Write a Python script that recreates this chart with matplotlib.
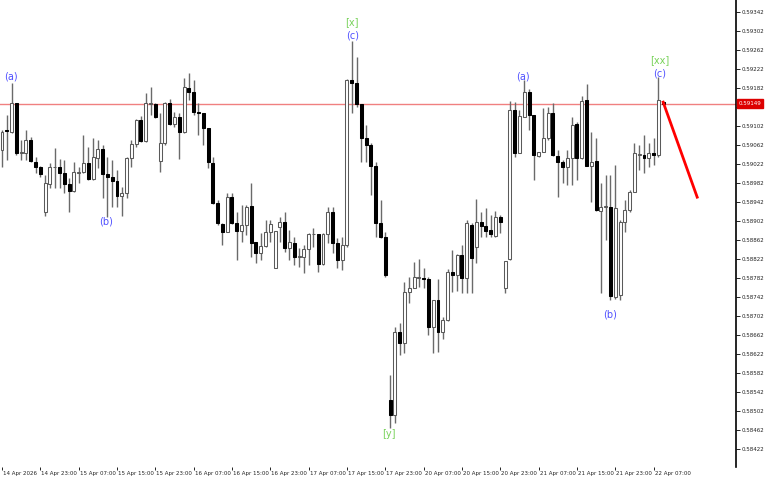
import matplotlib
matplotlib.use("Agg")
import matplotlib.pyplot as plt
import matplotlib.transforms as mtransforms
import numpy as np

# hourly bars, 14 Apr 15:00 .. 22 Apr 09:00
opens = [
    0.59051, 0.59093, 0.59089, 0.59150, 0.59045, 0.59045, 0.59072, 0.59026, 0.59015, 0.58921,
    0.58980, 0.59015, 0.59015, 0.59003, 0.58980, 0.58965, 0.59003, 0.59005, 0.59024, 0.58990,
    0.59034, 0.59053, 0.59001, 0.58994, 0.58986, 0.58954, 0.58961, 0.59034, 0.59064, 0.59114,
    0.59070, 0.59148, 0.59148, 0.59028, 0.59066, 0.59150, 0.59106, 0.59121, 0.59089, 0.59182,
    0.59173, 0.59131, 0.59129, 0.59098, 0.59024, 0.58940, 0.58896, 0.58879, 0.58952, 0.58898,
    0.58881, 0.58893, 0.58933, 0.58858, 0.58834, 0.58849, 0.58879, 0.58803, 0.58889, 0.58900,
    0.58845, 0.58856, 0.58826, 0.58826, 0.58843, 0.58874, 0.58874, 0.58811, 0.58874, 0.58921,
    0.58856, 0.58820, 0.58851, 0.59199, 0.59192, 0.59148, 0.59077, 0.59062, 0.59018, 0.58898,
    0.58868, 0.58525, 0.58493, 0.58668, 0.58645, 0.58752, 0.58761, 0.58782, 0.58782, 0.58780,
    0.58679, 0.58736, 0.58668, 0.58693, 0.58794, 0.58788, 0.58830, 0.58782, 0.58893, 0.58847,
    0.58900, 0.58891, 0.58883, 0.58870, 0.58910, 0.58761, 0.58822, 0.59135, 0.59045, 0.59121,
    0.59173, 0.59125, 0.59039, 0.59047, 0.59077, 0.59129, 0.59039, 0.59026, 0.59015, 0.59034,
    0.59106, 0.59034, 0.59157, 0.59018, 0.59028, 0.58923, 0.58931, 0.58931, 0.58742, 0.58746,
    0.58900, 0.58925, 0.58963, 0.59041, 0.59041, 0.59034, 0.59045, 0.59041, 0.59152,
]
highs = [
    0.59093, 0.59125, 0.59192, 0.59150, 0.59072, 0.59093, 0.59079, 0.59036, 0.59018, 0.58999,
    0.59024, 0.59055, 0.59032, 0.59030, 0.58992, 0.59026, 0.59015, 0.59083, 0.59058, 0.59077,
    0.59072, 0.59062, 0.59036, 0.59030, 0.59009, 0.58973, 0.59036, 0.59072, 0.59117, 0.59123,
    0.59171, 0.59184, 0.59150, 0.59129, 0.59152, 0.59159, 0.59131, 0.59129, 0.59203, 0.59213,
    0.59199, 0.59150, 0.59129, 0.59098, 0.59036, 0.58946, 0.58898, 0.58961, 0.58961, 0.58921,
    0.58935, 0.58935, 0.58982, 0.58858, 0.58877, 0.58904, 0.58904, 0.58881, 0.58910, 0.58921,
    0.58883, 0.58868, 0.58845, 0.58851, 0.58877, 0.58887, 0.58874, 0.58877, 0.58931, 0.58931,
    0.58866, 0.58868, 0.59201, 0.59281, 0.59247, 0.59148, 0.59104, 0.59066, 0.59026, 0.58946,
    0.58879, 0.58578, 0.58679, 0.58687, 0.58773, 0.58784, 0.58815, 0.58822, 0.58803, 0.58784,
    0.58736, 0.58780, 0.58700, 0.58801, 0.58841, 0.58832, 0.58851, 0.58904, 0.58898, 0.58948,
    0.58921, 0.58929, 0.58914, 0.58923, 0.58914, 0.58818, 0.59154, 0.59152, 0.59135, 0.59199,
    0.59180, 0.59125, 0.59047, 0.59140, 0.59142, 0.59150, 0.59051, 0.59030, 0.59051, 0.59121,
    0.59110, 0.59165, 0.59190, 0.59089, 0.59077, 0.58982, 0.58999, 0.58999, 0.59020, 0.58904,
    0.58946, 0.58967, 0.59066, 0.59062, 0.59083, 0.59066, 0.59077, 0.59205, 0.59154,
]
lows = [
    0.59015, 0.59030, 0.59087, 0.59041, 0.59030, 0.59030, 0.59026, 0.59003, 0.58994, 0.58912,
    0.58971, 0.58971, 0.58971, 0.58961, 0.58921, 0.58963, 0.58982, 0.59003, 0.58988, 0.58988,
    0.59013, 0.58950, 0.58910, 0.58931, 0.58931, 0.58912, 0.58950, 0.59015, 0.59058, 0.59068,
    0.59068, 0.59125, 0.59119, 0.59005, 0.59062, 0.59104, 0.59100, 0.59032, 0.59087, 0.59157,
    0.59125, 0.59083, 0.59062, 0.59013, 0.58938, 0.58893, 0.58851, 0.58878, 0.58896, 0.58820,
    0.58858, 0.58872, 0.58826, 0.58813, 0.58820, 0.58847, 0.58858, 0.58802, 0.58858, 0.58837,
    0.58820, 0.58809, 0.58805, 0.58792, 0.58809, 0.58847, 0.58794, 0.58810, 0.58856, 0.58834,
    0.58803, 0.58799, 0.58847, 0.59129, 0.59142, 0.59026, 0.59026, 0.58957, 0.58868, 0.58866,
    0.58784, 0.58466, 0.58477, 0.58620, 0.58624, 0.58729, 0.58760, 0.58763, 0.58761, 0.58662,
    0.58624, 0.58626, 0.58653, 0.58692, 0.58752, 0.58754, 0.58750, 0.58750, 0.58750, 0.58813,
    0.58868, 0.58868, 0.58868, 0.58869, 0.58877, 0.58750, 0.58820, 0.59036, 0.59044, 0.59120,
    0.59093, 0.58988, 0.59036, 0.59046, 0.59072, 0.59039, 0.58952, 0.58982, 0.58978, 0.58978,
    0.58988, 0.59033, 0.59017, 0.58942, 0.58923, 0.58750, 0.58862, 0.58736, 0.58738, 0.58736,
    0.58879, 0.58921, 0.58962, 0.59009, 0.59003, 0.59015, 0.59020, 0.59036, 0.59148,
]
closes = [
    0.59089, 0.59091, 0.59150, 0.59045, 0.59047, 0.59072, 0.59028, 0.59015, 0.59001, 0.58982,
    0.59015, 0.59016, 0.59003, 0.58980, 0.58965, 0.59005, 0.59004, 0.59024, 0.58990, 0.59036,
    0.59053, 0.59001, 0.58994, 0.58986, 0.58954, 0.58961, 0.59034, 0.59064, 0.59114, 0.59070,
    0.59150, 0.59149, 0.59121, 0.59066, 0.59150, 0.59106, 0.59121, 0.59089, 0.59184, 0.59173,
    0.59131, 0.59129, 0.59098, 0.59026, 0.58940, 0.58898, 0.58879, 0.58952, 0.58898, 0.58881,
    0.58893, 0.58931, 0.58856, 0.58834, 0.58849, 0.58879, 0.58896, 0.58881, 0.58900, 0.58845,
    0.58858, 0.58826, 0.58827, 0.58843, 0.58874, 0.58875, 0.58811, 0.58874, 0.58921, 0.58856,
    0.58820, 0.58851, 0.59199, 0.59192, 0.59148, 0.59077, 0.59062, 0.59018, 0.58898, 0.58868,
    0.58788, 0.58493, 0.58668, 0.58645, 0.58752, 0.58761, 0.58784, 0.58783, 0.58780, 0.58679,
    0.58736, 0.58668, 0.58693, 0.58794, 0.58788, 0.58830, 0.58782, 0.58898, 0.58824, 0.58900,
    0.58891, 0.58881, 0.58874, 0.58910, 0.58900, 0.58818, 0.59135, 0.59045, 0.59123, 0.59173,
    0.59125, 0.59041, 0.59047, 0.59077, 0.59129, 0.59041, 0.59026, 0.59015, 0.59034, 0.59104,
    0.59034, 0.59155, 0.59018, 0.59026, 0.58925, 0.58931, 0.58932, 0.58744, 0.58929, 0.58900,
    0.58925, 0.58963, 0.59045, 0.59042, 0.59034, 0.59045, 0.59041, 0.59157, 0.59149,
]

bid_price = 0.59149

# x tick labels every 8 bars
xtick_bars = [0, 8, 16, 24, 32, 40, 48, 56, 64, 72, 80, 88, 96, 104, 112, 120, 128, 136]
xtick_labels = ["14 Apr 2026", "14 Apr 23:00", "15 Apr 07:00", "15 Apr 15:00", "15 Apr 23:00",
                "16 Apr 07:00", "16 Apr 15:00", "16 Apr 23:00", "17 Apr 07:00", "17 Apr 15:00",
                "17 Apr 23:00", "20 Apr 07:00", "20 Apr 15:00", "20 Apr 23:00", "21 Apr 07:00",
                "21 Apr 15:00", "21 Apr 23:00", "22 Apr 07:00"]
yticks = np.round(np.arange(0.58422, 0.59343, 0.0004), 5)

# wave labels
wave_text = ["(a)", "(b)", "[x]", "(c)", "[y]", "(a)", "(b)", "[xx]", "(c)"]
wave_bar = [1.8, 21.7, 73.1, 73.1, 80.8, 108.8, 126.9, 137.2, 137.2]
wave_price = [0.59207, 0.58900, 0.59321, 0.59293, 0.58453, 0.59207, 0.58704, 0.59241, 0.59213]
wave_color = ["blue", "blue", "green", "blue", "green", "blue", "blue", "green", "blue"]

# projection line
proj_bar = [138, 145.1]
proj_price = [0.59152, 0.58952]

o = np.array(opens)
h = np.array(highs)
l = np.array(lows)
c = np.array(closes)
x = np.arange(len(o))

fig = plt.figure(figsize=(7.68, 4.8), dpi=100)
ax = fig.add_axes([0, 13 / 480, 736 / 768, 467 / 480])

up = c >= o
bot = np.minimum(o, c)
hgt = np.maximum(np.abs(c - o), 0.000015)

ax.axhline(bid_price, color="#f08080", lw=1, zorder=1)
ax.vlines(x, l, h, color="#6a6a6a", lw=1, zorder=2)
ax.bar(x[up], hgt[up], bottom=bot[up], width=0.62, color="white",
       edgecolor="#5a5a5a", lw=0.75, zorder=3)
ax.bar(x[~up], hgt[~up], bottom=bot[~up], width=0.62, color="black",
       edgecolor="black", lw=0.75, zorder=3)

ax.plot(proj_bar, proj_price, color="#ff0000", lw=2, zorder=4)

colors = {"blue": "#5050ff", "green": "#78d25a"}
for t, b, p, col in zip(wave_text, wave_bar, wave_price, wave_color):
    ax.text(b, p, t, color=colors[col], fontsize=7, ha="center", va="center", zorder=5)

ax.set_xlim(-0.42, 153.2)
ax.set_ylim(0.58384, 0.59367)

for s in ["top", "left", "bottom"]:
    ax.spines[s].set_visible(False)
ax.spines["right"].set_linewidth(1.2)

ax.yaxis.tick_right()
ax.set_yticks(yticks)
ax.set_yticklabels([f"{v:.5f}" for v in yticks])
ax.tick_params(axis="y", direction="out", length=3, width=0.6, pad=1,
               labelsize=4, labelcolor="#222222")

ax.set_xticks(xtick_bars)
ax.set_xticklabels(xtick_labels, ha="left")
ax.tick_params(axis="x", direction="out", length=2, width=0.6, pad=1,
               labelsize=4, labelcolor="#222222")
for lab in ax.get_xticklabels():
    lab.set_transform(lab.get_transform() + mtransforms.ScaledTranslation(1 / 100, 0, fig.dpi_scale_trans))

trans = mtransforms.blended_transform_factory(ax.transAxes, ax.transData)
ax.text(1.003, bid_price, f"{bid_price:.5f}", transform=trans, fontsize=4,
        color="white", ha="left", va="center", zorder=6,
        bbox=dict(boxstyle="square,pad=0.3", fc="#dd0000", ec="#dd0000"))

fig.savefig("out.png", dpi=100, facecolor="white")
